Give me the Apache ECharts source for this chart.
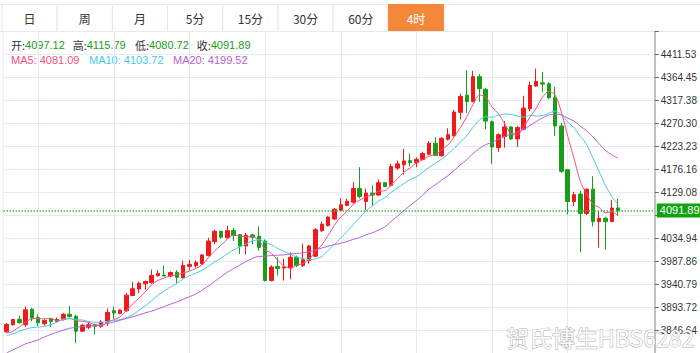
<!DOCTYPE html>
<html>
<head>
<meta charset="utf-8">
<script src="https://cdn.jsdelivr.net/npm/echarts@6/dist/echarts.min.js"></script>
<style>
html,body{margin:0;padding:0;background:#fff;}
#kline{width:700px;height:353px;}
</style>
</head>
<body>
<div id="kline"></div>
<script>
// period tabs
var tabs = ['日', '周', '月', '5分', '15分', '30分', '60分', '4时'];
var activeTab = 7;

// right axis tick labels, bottom to top (the one under the price box is not shown)
var yTickLabels = ['3846.64', '3893.72', '3940.79', '3987.86', '4034.94', '', '4129.08',
	'4176.16', '4223.23', '4270.30', '4317.38', '4364.45', '4411.53'];

// 4h candles
var opens = [3843,3857.6,3868.9,3857.6,3889.5,3872.3,3859.6,3869.6,3864.3,3869.6,
	3879,3874.9,3844.3,3852.3,3857.6,3854.3,3863,3886.2,3880.9,3886.2,
	3917.5,3930.8,3941.4,3944.1,3958,3959.4,3957.4,3965.3,3954,3977.3,
	3978.7,3982.6,3999.3,4027.9,4049.2,4035.9,4051.1,4042.5,4019.2,4041.8,
	4039.2,4029.2,3948.1,3977.3,3974,3974,3996,3979.3,3989.3,3998,
	4050.5,4061.1,4074.4,4092.4,4102.4,4109,4136.9,4110.3,4127.6,4123.6,
	4148.9,4143.6,4178.8,4185.5,4194.1,4190.1,4196.8,4207.4,4230,4204.1,
	4238,4245.3,4293.2,4328.5,4315.1,4366.4,4340.4,4273.9,4220.7,4243.3,
	4263.3,4238.7,4258.6,4300.5,4347.1,4353.7,4351.7,4323.1,4265.3,4175.5,
	4110.3,4125.6,4085.7,4135.6,4069.1,4075.8,4069.1,4097.12];
var closes = [3858.3,3868.3,3861.6,3888.2,3870.9,3861.6,3866.3,3864.3,3868.3,3879,
	3874.3,3844.3,3856.3,3857.6,3854.3,3863,3882.9,3881.6,3887.5,3918.2,
	3931.4,3942.8,3946.1,3958.7,3962.7,3957.4,3964.7,3954.7,3979.3,3981.3,
	3985.3,4000.6,4029.2,4049.2,4037.2,4050.5,4041.2,4019.2,4041.2,4037.2,
	4015.9,3948.1,3976,3972.7,3976,3996,3979.3,3990.6,4019.2,4052.5,
	4063.8,4078.4,4094.4,4103.7,4111,4136.9,4120.3,4127.6,4123.6,4148.9,
	4140.9,4182.1,4187.5,4193.4,4190.1,4196.8,4208.8,4230,4204.8,4240,
	4247.3,4293.9,4325.8,4315.1,4366.4,4341.8,4275.2,4222.1,4247.3,4263.3,
	4238.7,4262,4301.9,4348.4,4356.4,4351.1,4323.1,4265.3,4172.2,4110.3,
	4124.3,4085.7,4135.6,4069.1,4075.8,4069.1,4097,4091.89];
var lows = [3841.6,3856,3859.6,3853,3864.3,3855,3856,3853,3863,3866,
	3872.3,3819.7,3843,3848,3837.7,3851,3855,3869.6,3878.9,3884.2,
	3916.2,3922.8,3929.4,3941.4,3956,3957.4,3955,3942.8,3952.7,3969.4,
	3974.7,3981.3,3997.9,4022.6,4033.9,4034.5,4029.2,4002.6,4001.3,4022.6,
	4009.3,3946.1,3946.7,3958.7,3948.1,3950.7,3976,3976,3982.6,3996,
	4047.8,4059.1,4072.4,4089.1,4101,4105.7,4117,4092.4,4101,4122.3,
	4139.6,4140.9,4175.5,4165.5,4182.1,4180.8,4195.5,4205.4,4203.4,4202.1,
	4235.4,4243.3,4278.6,4291.9,4313.8,4315.1,4258.6,4187.5,4212.1,4220.7,
	4236.7,4222.1,4256.6,4295.2,4345.7,4335.1,4320.5,4245.3,4168.9,4083.7,
	4101,4005.9,4082.4,4059.1,4015.9,4011.2,4067.8,4080.72];
var highs = [3861,3869.6,3876,3894.9,3892.2,3878.9,3869.6,3872.3,3872.3,3881.6,
	3896.2,3877.6,3859.6,3864.3,3859.6,3867,3890.9,3894.9,3889.5,3922.8,
	3945.4,3946,3948,3970.7,3969.4,3979.3,3967,3969.4,3989.3,3990.6,
	3989.3,4002.6,4035.8,4052.5,4050.5,4060.5,4055.8,4043.8,4045.8,4043.8,
	4059.1,4032.5,3979.3,3995.9,3992.6,4005.9,3999.3,4023.9,4021.2,4055.8,
	4069.1,4081.1,4097,4117,4115.7,4150.2,4180.8,4136.9,4143.6,4155.5,
	4150.2,4187.5,4194.1,4218.7,4208.8,4200.8,4212.1,4234,4242,4242,
	4260.6,4298.5,4331.8,4379.7,4378.3,4371.7,4343.1,4276.6,4250,4275.2,
	4265.3,4265.3,4327.1,4356.4,4383,4376.3,4355.1,4345.1,4271.9,4177,
	4130.3,4132.3,4137,4162.2,4090.4,4079.1,4113.7,4115.79];

// moving averages as drawn
var ma5 = [3839.7,3844.3,3853,3863,3869.46,3870.12,3869.72,3870.26,3866.28,3867.9,
	3870.44,3866.04,3864.44,3862.3,3857.36,3855.1,3862.82,3867.88,3873.86,3886.64,
	3900.32,3912.3,3925.2,3939.44,3948.34,3953.54,3957.92,3959.64,3963.76,3967.48,
	3973.06,3980.24,3995.14,4009.12,4020.3,4033.34,4041.46,4039.46,4037.86,4037.86,
	4030.94,4012.32,4003.68,3989.98,3977.74,3973.76,3980,3982.92,3992.22,4007.52,
	4021.08,4040.9,4061.66,4078.56,4090.26,4104.88,4113.26,4119.9,4123.88,4131.46,
	4132.26,4144.62,4156.6,4170.56,4178.8,4189.98,4195.32,4203.82,4206.1,4216.08,
	4226.18,4243.2,4262.36,4284.42,4309.7,4328.6,4324.86,4304.12,4290.56,4269.94,
	4249.32,4246.68,4262.64,4282.86,4301.48,4323.96,4336.18,4328.86,4293.62,4244.4,
	4199.04,4151.56,4125.62,4105,4098.1,4087.06,4089.32,4081.09];
var ma10 = [3835,3839,3844,3848.5,3851.5,3853,3854,3857.5,3863,3868.68,
	3870.28,3867.88,3867.35,3864.29,3862.63,3862.77,3864.43,3866.16,3868.08,3872,
	3877.71,3887.56,3896.54,3906.65,3917.49,3926.93,3935.11,3942.42,3951.6,3957.91,
	3963.3,3969.08,3977.39,3986.44,3993.89,4003.2,4010.85,4017.3,4023.49,4029.08,
	4032.14,4026.89,4021.57,4013.92,4007.8,4002.35,3996.16,3993.3,3991.1,3992.63,
	3997.42,4010.45,4022.29,4035.39,4048.89,4062.98,4077.08,4090.78,4101.22,4110.86,
	4118.57,4128.94,4138.25,4147.22,4155.13,4161.12,4169.97,4180.21,4188.33,4197.44,
	4208.08,4219.26,4233.09,4245.26,4262.89,4277.39,4284.03,4283.24,4287.49,4289.82,
	4288.96,4285.77,4283.38,4286.71,4285.71,4286.64,4291.43,4295.75,4288.24,4272.94,
	4261.5,4243.87,4227.24,4199.31,4171.25,4143.05,4120.44,4103.72];
var ma20 = [3800,3806,3812,3818.4,3822.4,3826.4,3832.4,3837.7,3842.3,3846.3,
	3850.3,3852.3,3853.7,3855,3856.3,3857.6,3860.3,3862.9,3866.9,3870.34,
	3873.99,3877.72,3881.95,3885.47,3890.06,3894.85,3899.77,3904.29,3909.84,3914.96,
	3920.51,3928.32,3936.97,3946.55,3955.69,3965.07,3972.98,3979.86,3987.55,3993.5,
	3997.72,3997.99,3999.48,4000.18,4000.85,4002.78,4003.51,4005.3,4007.3,4010.86,
	4014.78,4018.67,4021.93,4024.66,4028.35,4032.67,4036.62,4042.04,4046.16,4051.75,
	4058,4069.7,4080.27,4091.31,4102.01,4112.05,4123.53,4135.5,4144.78,4154.15,
	4163.33,4174.1,4185.67,4196.24,4209.01,4219.26,4227,4231.73,4237.91,4243.63,
	4248.52,4252.52,4258.24,4265.99,4274.3,4282.02,4287.73,4289.5,4287.87,4281.38,
	4275.23,4264.82,4255.31,4243.01,4228.48,4214.85,4205.94,4199.52];

var padSlots = 5;          // empty slots right of the last candle
var yMin = 3799.568, yStep = 47.0742;

var upColor = '#f01a1a', downColor = '#17a017';
var gridColor = '#e4ebf3';
var maColors = ['#f2527d', '#45cbe2', '#b75fd6'];

var chart = echarts.init(document.getElementById('kline'), null, {renderer: 'svg'});

var cats = [];
for (var i = 0; i < opens.length + padSlots; i++) cats.push(String(i));
var kdata = opens.map(function (o, i) { return [o, closes[i], lows[i], highs[i]]; });
var last = opens.length - 1;

// header graphics
var graphics = [];
graphics.push({type: 'line', shape: {x1: 0, y1: 4.5, x2: 700, y2: 4.5}, style: {stroke: '#e6e6e6', lineWidth: 1}});
graphics.push({type: 'line', shape: {x1: 0, y1: 31.5, x2: 700, y2: 31.5}, style: {stroke: '#e6e6e6', lineWidth: 1}});
graphics.push({type: 'line', shape: {x1: 3, y1: 32, x2: 3, y2: 353}, style: {stroke: gridColor, lineWidth: 1}});
tabs.forEach(function (t, i) {
	var x = 2 + 55.2 * i;
	var on = i === activeTab;
	graphics.push({type: 'rect', shape: {x: x, y: 4.5, width: 55.2, height: 27},
		style: {fill: on ? '#f3883b' : '#fff', stroke: on ? '#f3883b' : '#e6e6e6', lineWidth: 1}});
	graphics.push({type: 'text', x: x + 27.6, y: 18.5,
		style: {text: t, fill: on ? '#fff' : '#333', fontSize: 12, fontFamily: '"Noto Sans CJK SC", sans-serif',
			align: 'center', verticalAlign: 'middle', textAlign: 'center', textVerticalAlign: 'middle'}});
});

var ohlc = [['开', opens[last], 11], ['高', highs[last], 72.7], ['低', lows[last], 135], ['收', closes[last], 196.7]];
ohlc.forEach(function (it) {
	graphics.push({type: 'text', x: it[2], y: 45,
		style: {text: '{l|' + it[0] + ':}{v|' + it[1].toFixed(2) + '}', verticalAlign: 'middle', textVerticalAlign: 'middle',
			rich: {
				l: {fill: '#333', fontSize: 11, fontFamily: '"Noto Sans CJK SC", sans-serif'},
				v: {fill: '#17a017', fontSize: 11, fontFamily: '"Liberation Sans", Arial, sans-serif'}
			}}});
});
var maLegend = [['MA5', ma5[last], 11], ['MA10', ma10[last], 89], ['MA20', ma20[last], 173]];
maLegend.forEach(function (it, i) {
	graphics.push({type: 'text', x: it[2], y: 59.5,
		style: {text: it[0] + ': ' + it[1].toFixed(2), fill: maColors[i], fontSize: 11,
			fontFamily: '"Liberation Sans", Arial, sans-serif', verticalAlign: 'middle', textVerticalAlign: 'middle'}});
});
graphics.push({type: 'text', x: 506, y: 337, z: 100,
	style: {text: '贺氏博生HBS6282', fill: 'rgba(255,255,255,0.95)', stroke: 'rgba(140,140,140,0.7)', lineWidth: 1,
		fontSize: 23, fontFamily: '"Noto Sans CJK SC", sans-serif', verticalAlign: 'middle', textVerticalAlign: 'middle'}});

var option = {
	animation: false,
	backgroundColor: '#fff',
	textStyle: {fontFamily: '"Liberation Sans", Arial, sans-serif'},
	grid: {left: 3.5, top: 31.7, width: 649.3, height: 330.4},
	xAxis: {
		type: 'category',
		data: cats,
		boundaryGap: true,
		axisLine: {show: false},
		axisTick: {show: false},
		axisLabel: {show: false},
		splitLine: {
			show: true,
			alignWithLabel: true,
			interval: function (idx) { return idx % 12 === 5 && idx < opens.length; },
			lineStyle: {color: gridColor, width: 1}
		}
	},
	yAxis: {
		type: 'value',
		position: 'right',
		offset: 2,
		min: yMin,
		max: yMin + 14 * yStep,
		interval: yStep,
		axisLine: {show: true, lineStyle: {color: '#adadad', width: 1.5}},
		axisTick: {show: true, length: 4, lineStyle: {color: '#666'}},
		axisLabel: {
			show: true, margin: 6, color: '#333', fontSize: 10,
			showMinLabel: false, showMaxLabel: false,
			formatter: function (v) {
				var k = Math.round((v - yMin) / yStep) - 1;
				return yTickLabels[k] || '';
			}
		},
		splitLine: {show: true, lineStyle: {color: gridColor, width: 1}}
	},
	graphic: graphics,
	series: [
		{
			name: 'K',
			type: 'candlestick',
			data: kdata,
			barWidth: 4,
			itemStyle: {color: upColor, color0: downColor, borderColor: upColor, borderColor0: downColor, borderWidth: 1},
			markLine: {
				silent: true,
				symbol: ['none', 'none'],
				lineStyle: {color: '#46b946', type: [1.5, 1.5], width: 1.5},
				label: {
					position: 'end', distance: 4, color: '#fff', backgroundColor: '#12a212',
					padding: [2, 3, 1, 3], fontSize: 11,
					formatter: function () { return closes[last].toFixed(2); }
				},
				data: [{yAxis: closes[last]}]
			}
		},
		{name: 'MA5', type: 'line', data: ma5, symbol: 'none', smooth: 0.3, lineStyle: {color: maColors[0], width: 1}},
		{name: 'MA10', type: 'line', data: ma10, symbol: 'none', smooth: 0.3, lineStyle: {color: maColors[1], width: 1}},
		{name: 'MA20', type: 'line', data: ma20, symbol: 'none', smooth: 0.3, lineStyle: {color: maColors[2], width: 1}}
	]
};
chart.setOption(option);
</script>
</body>
</html>
